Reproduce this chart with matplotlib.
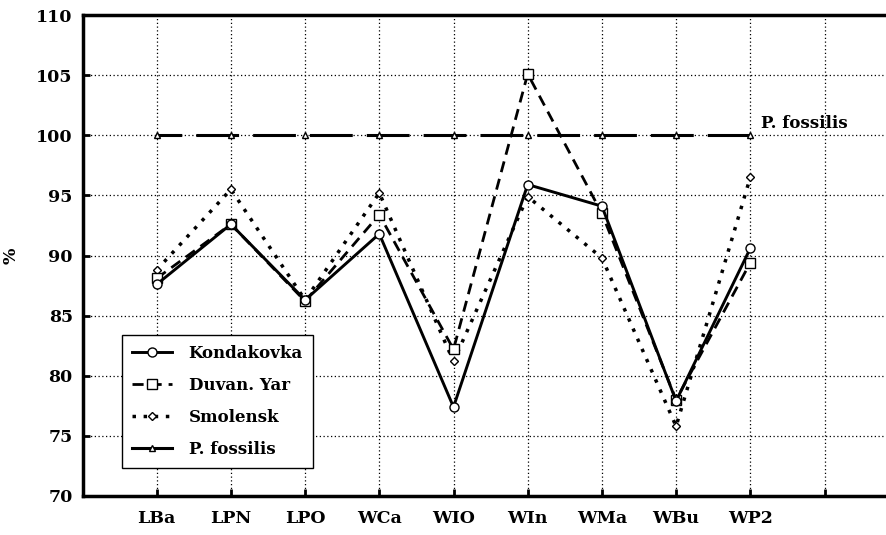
import matplotlib
matplotlib.use("Agg")
import matplotlib.pyplot as plt
from matplotlib.lines import Line2D
import numpy as np

categories = ["LBa", "LPN", "LPO", "WCa", "WIO", "WIn", "WMa", "WBu", "WP2"]
kondakovka = [87.6, 92.6, 86.3, 91.8, 77.4, 95.9, 94.1, 77.9, 90.6]
duvan_yar = [88.1, 92.6, 86.2, 93.4, 82.2, 105.1, 93.5, 78.0, 89.4]
smolensk = [88.8, 95.5, 86.3, 95.2, 81.2, 94.9, 89.8, 75.8, 96.5]
p_fossilis = [100, 100, 100, 100, 100, 100, 100, 100, 100]

plt.rcParams['font.family'] = ['DejaVu Serif', 'Liberation Serif']
plt.rcParams['font.weight'] = 'bold'

fig = plt.figure(figsize=(8.86, 5.35), dpi=100)
W, H = 886, 535
left, right, top, bottom = 82.5, 886, 15, 496
ax = fig.add_axes([left / W, 1 - bottom / H, (right - left) / W, (bottom - top) / H])

x = np.arange(1, len(categories) + 1)
mk = dict(markerfacecolor='white', markeredgecolor='black', markeredgewidth=1.0, color='black')

ax.plot(x, p_fossilis, linestyle=(5.9, (14, 4.6)), lw=2.2, marker='^', markersize=5, zorder=3, **mk)
ax.plot(x, smolensk, linestyle=(0, (1, 2.2)), lw=2.5, marker='D', markersize=4.5, label='Smolensk', zorder=4, **mk)
ax.plot(x, duvan_yar, linestyle=(0, (4, 2.5)), lw=2.0, marker='s', markersize=6.5, label='Duvan. Yar', zorder=5, **mk)
ax.plot(x, kondakovka, linestyle='-', lw=2.1, marker='o', markersize=6.5, label='Kondakovka', zorder=6, **mk)

ax.set_xlim(0, (right - left) / 74.2)
ax.set_ylim(70, 110)
ax.set_yticks(np.arange(70, 111, 5))
ax.set_xticks(list(x) + [10])
ax.set_xticklabels(categories + [""])
ax.tick_params(axis='both', direction='in', length=5, width=2, labelsize=12.5)
ax.tick_params(axis='x', pad=10)
ax.tick_params(axis='y', pad=7)
for lab in ax.get_xticklabels() + ax.get_yticklabels():
    lab.set_fontweight('bold')

ax.grid(True, linestyle=(0, (1, 2)), color='black', lw=0.9)
ax.set_axisbelow(True)
for s in ['left', 'bottom', 'top']:
    ax.spines[s].set_linewidth(2.5)
ax.spines['right'].set_visible(False)

ax.set_ylabel('%', fontsize=12.5, fontweight='bold')
ax.yaxis.set_label_coords((20 - left) / (right - left), 0.5)

ax.text(9.15, 101.0, 'P. fossilis', fontsize=12, fontweight='bold', ha='left', va='center')

handles, labels = ax.get_legend_handles_labels()
pf_handle = Line2D([], [], linestyle='-', lw=2.2, marker='^', markersize=5, **mk)
handles = [handles[2], handles[1], handles[0], pf_handle]
labels = [labels[2], labels[1], labels[0], 'P. fossilis']
leg = ax.legend(handles, labels,
                loc='lower left', bbox_to_anchor=((122 - left) / (right - left), (bottom - 468) / (bottom - top)),
                frameon=True, fancybox=False, edgecolor='black', framealpha=1,
                prop={'size': 12, 'weight': 'bold'}, handlelength=2.4, labelspacing=0.9,
                borderpad=0.6, handletextpad=1.0, borderaxespad=0)
leg.get_frame().set_linewidth(1.0)

fig.savefig('out.png', dpi=100)
